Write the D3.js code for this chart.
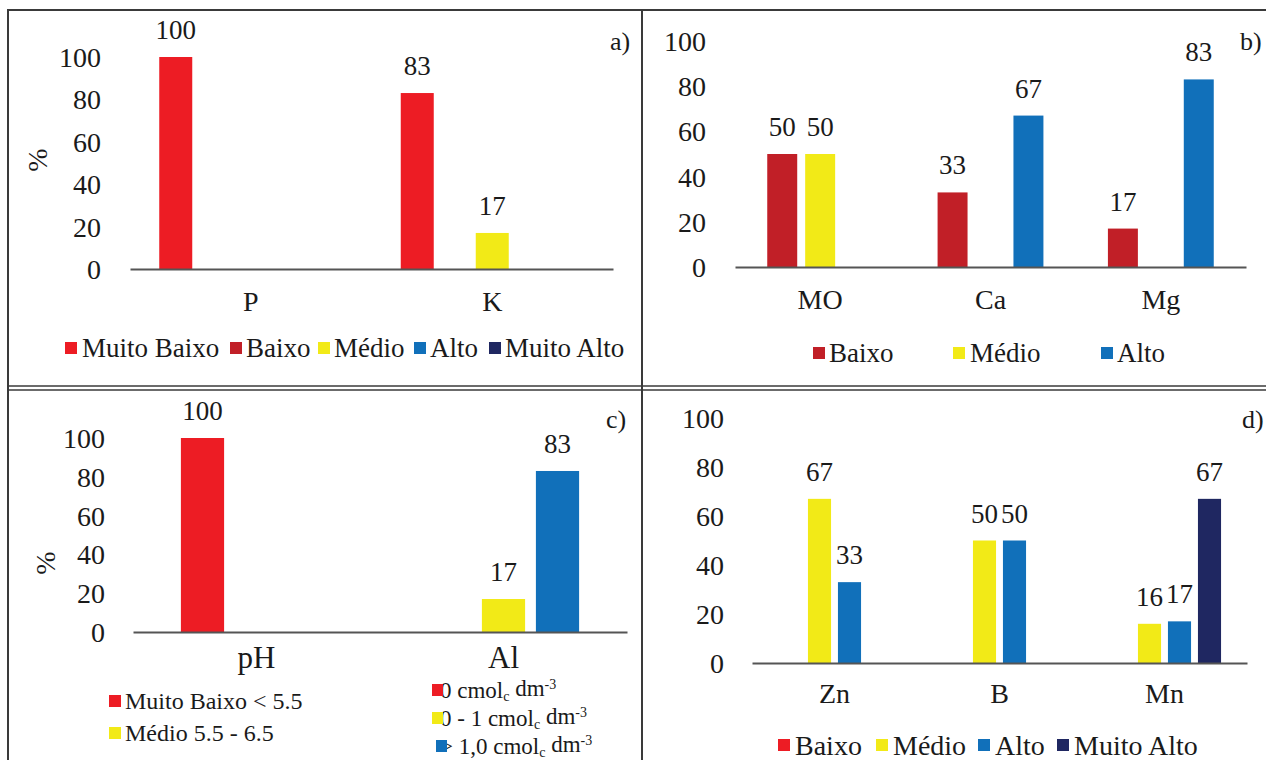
<!DOCTYPE html>
<html>
<head>
<meta charset="utf-8">
<script src="https://cdn.jsdelivr.net/npm/d3@7"></script>
<style>
  body { margin: 0; background: #fff; }
  svg { display: block; }
  #chart text { font-family: "Liberation Serif"; }
</style>
</head>
<body>
<svg id="chart" width="1266" height="760"></svg>
<script>
// Shared y ticks (percent of samples)
const yTicks = [0, 20, 40, 60, 80, 100];

// a) P and K
const catsA = ["P", "K"];
const seriesA = ["Muito Baixo", "Baixo", "Médio", "Alto", "Muito Alto"];
const valuesA = [[100, 0, 0, 0, 0], [83, 0, 17, 0, 0]];
const colorsA = ["#ED1C24", "#C11F27", "#F2EA17", "#1170BA", "#1F2761"];

// b) MO, Ca and Mg
const catsB = ["MO", "Ca", "Mg"];
const seriesB = ["Baixo", "Médio", "Alto"];
const valuesB = [[50, 50, 0], [33, 0, 67], [17, 0, 83]];
const colorsB = ["#C11F27", "#F2EA17", "#1170BA"];

// c) pH and Al
const catsC = ["pH", "Al"];
const seriesC = ["Muito Baixo", "Médio", "Alto"];
const valuesC = [[100, 0, 0], [0, 17, 83]];
const colorsC = ["#ED1C24", "#F2EA17", "#1170BA"];

// d) Zn, B and Mn
const catsD = ["Zn", "B", "Mn"];
const seriesD = ["Baixo", "Médio", "Alto", "Muito Alto"];
const valuesD = [[0, 67, 33, 0], [0, 50, 50, 0], [0, 16, 17, 67]];
const colorsD = ["#ED1C24", "#F2EA17", "#1170BA", "#1F2761"];

const FONT = '"Liberation Serif"';

const svg = d3.select("#chart");
svg.append("rect").attr("width", 1266).attr("height", 760).attr("fill", "#fff");

function drawPanel(cfg) {
  const g = svg.append("g");
  const y = d3.scaleLinear().domain([0, 100]).range([cfg.y0, cfg.y100]);
  const x0 = d3.scaleBand().domain(cfg.cats).range([cfg.xL, cfg.xR]).padding(0);
  const x1 = d3.scaleBand().domain(cfg.series).range([0, x0.bandwidth()])
    .paddingInner(cfg.pi).paddingOuter(cfg.po);

  const cells = [];
  cfg.cats.forEach((c, i) => cfg.series.forEach((s, j) => {
    const v = cfg.values[i][j];
    if (v > 0) cells.push({ c, s, v, color: cfg.colors[j] });
  }));

  g.selectAll("rect.bar").data(cells).join("rect")
    .attr("class", "bar")
    .attr("x", d => x0(d.c) + x1(d.s))
    .attr("width", x1.bandwidth())
    .attr("y", d => y(d.v))
    .attr("height", d => y(0) - y(d.v))
    .attr("fill", d => d.color);

  g.selectAll("text.val").data(cells).join("text")
    .attr("class", "val")
    .attr("x", d => x0(d.c) + x1(d.s) + x1.bandwidth() / 2)
    .attr("y", d => y(d.v) - 18)
    .attr("text-anchor", "middle")
    .attr("font-size", cfg.valSize)
    .text(d => d.v);

  // value axis: labels only
  const ya = g.append("g").attr("transform", `translate(${cfg.tickX},0)`)
    .call(d3.axisLeft(y).tickValues(yTicks).tickSize(0).tickPadding(0));
  ya.attr("font-family", null);
  ya.select(".domain").remove();
  ya.selectAll("text").attr("font-size", cfg.tickSize).attr("dy", "0.34em");

  // category axis: baseline and category names
  const xa = g.append("g").attr("transform", `translate(0,${cfg.y0})`)
    .call(d3.axisBottom(x0).tickSize(0).tickSizeOuter(0).tickPadding(cfg.catPad));
  xa.attr("font-family", null);
  xa.select(".domain").attr("stroke", "#555").attr("stroke-width", 2);
  xa.selectAll("text").attr("font-size", cfg.catSize);

  if (cfg.yTitle) {
    g.append("text")
      .attr("transform", `translate(${cfg.yTitle[0]},${cfg.yTitle[1]}) rotate(-90)`)
      .attr("text-anchor", "middle").attr("dy", "0.35em")
      .attr("font-size", 28).text("%");
  }
  g.append("text").attr("x", cfg.tag[0]).attr("y", cfg.tag[1])
    .attr("font-size", 26).text(cfg.tagText);
}

function legendRow(items, yc, fontSize) {
  const g = svg.append("g");
  items.forEach(it => {
    g.append("text").attr("x", it.tx).attr("y", yc).attr("dy", "0.34em")
      .attr("font-size", fontSize).text(it.label);
    g.append("rect").attr("x", it.sx).attr("y", yc - 6).attr("width", 12).attr("height", 12)
      .attr("fill", it.color);
  });
}

drawPanel({
  cats: catsA, series: seriesA, values: valuesA, colors: colorsA,
  y0: 269, y100: 57, xL: 130, xR: 613, pi: 0.12, po: 0.78,
  tickX: 101, tickSize: 28, valSize: 27, catSize: 28, catPad: 22,
  yTitle: [37, 160], tag: [610, 50], tagText: "a)"
});
drawPanel({
  cats: catsB, series: seriesB, values: valuesB, colors: colorsB,
  y0: 267, y100: 41, xL: 735, xR: 1246, pi: 0.21, po: 0.85,
  tickX: 706, tickSize: 28, valSize: 27, catSize: 28, catPad: 22,
  tag: [1240, 50], tagText: "b)"
});
drawPanel({
  cats: catsC, series: seriesC, values: valuesC, colors: colorsC,
  y0: 632, y100: 438, xL: 133, xR: 627, pi: 0.2, po: 0.887,
  tickX: 105, tickSize: 28, valSize: 27, catSize: 31, catPad: 14,
  yTitle: [45, 563], tag: [606, 428], tagText: "c)"
});
drawPanel({
  cats: catsD, series: seriesD, values: valuesD, colors: colorsD,
  y0: 663, y100: 418, xL: 752, xR: 1247, pi: 0.23, po: 0.865,
  tickX: 724, tickSize: 28, valSize: 27, catSize: 28, catPad: 20,
  tag: [1242, 428], tagText: "d)"
});

// legends
legendRow([
  { sx: 65, tx: 82, label: seriesA[0], color: colorsA[0] },
  { sx: 230, tx: 246, label: seriesA[1], color: colorsA[1] },
  { sx: 318, tx: 334, label: seriesA[2], color: colorsA[2] },
  { sx: 414, tx: 430, label: seriesA[3], color: colorsA[3] },
  { sx: 489, tx: 505, label: seriesA[4], color: colorsA[4] }
], 348, 27);
legendRow([
  { sx: 813, tx: 829, label: seriesB[0], color: colorsB[0] },
  { sx: 953, tx: 970, label: seriesB[1], color: colorsB[1] },
  { sx: 1101, tx: 1117, label: seriesB[2], color: colorsB[2] }
], 353, 27);
legendRow([
  { sx: 778, tx: 795, label: seriesD[0], color: colorsD[0] },
  { sx: 876, tx: 893, label: seriesD[1], color: colorsD[1] },
  { sx: 978, tx: 995, label: seriesD[2], color: colorsD[2] },
  { sx: 1057, tx: 1074, label: seriesD[3], color: colorsD[3] }
], 745, 28);

// c) pH classes
const phLegend = ["Muito Baixo < 5.5", "Médio 5.5 - 6.5"];
legendRow([
  { sx: 109, tx: 125, label: phLegend[0], color: colorsC[0] }
], 701, 24);
legendRow([
  { sx: 109, tx: 125, label: phLegend[1], color: colorsC[1] }
], 733, 24);

// c) Al classes, with subscript/superscript units
const alLegend = [["0", 690, 432], ["0 - 1", 718, 432], ["> 1,0", 746, 436]];
alLegend.forEach(([lead, yc, sx], i) => {
  const t = svg.append("text")
    .attr("x", 440).attr("y", yc).attr("dy", "0.34em").attr("font-size", 23);
  t.append("tspan").text(lead + " cmol");
  t.append("tspan").attr("font-size", 14).attr("dy", "0.25em").text("c");
  t.append("tspan").attr("dy", "-0.25em").text(" dm");
  t.append("tspan").attr("font-size", 14).attr("dy", "-0.5em").text("-3");
  svg.append("rect").attr("x", sx).attr("y", yc - 6).attr("width", 11).attr("height", 12)
    .attr("fill", colorsC[i]);
});

// every label in the same serif face, near-black text
svg.selectAll("text")
  .style("font-family", FONT)
  .style("fill", "#1a1a1a");

// table frame
const frame = svg.append("g").attr("stroke", "#3a3a3a").attr("fill", "none");
frame.append("line").attr("x1", 8).attr("x2", 8).attr("y1", 9).attr("y2", 760).attr("stroke-width", 2);
frame.append("line").attr("x1", 642).attr("x2", 642).attr("y1", 9).attr("y2", 760).attr("stroke-width", 2);
frame.append("line").attr("x1", 7).attr("x2", 1266).attr("y1", 10).attr("y2", 10).attr("stroke-width", 2);
frame.append("line").attr("x1", 7).attr("x2", 1266).attr("y1", 386).attr("y2", 386).attr("stroke-width", 1.6);
frame.append("line").attr("x1", 7).attr("x2", 1266).attr("y1", 390).attr("y2", 390).attr("stroke-width", 1.6);
</script>
</body>
</html>
